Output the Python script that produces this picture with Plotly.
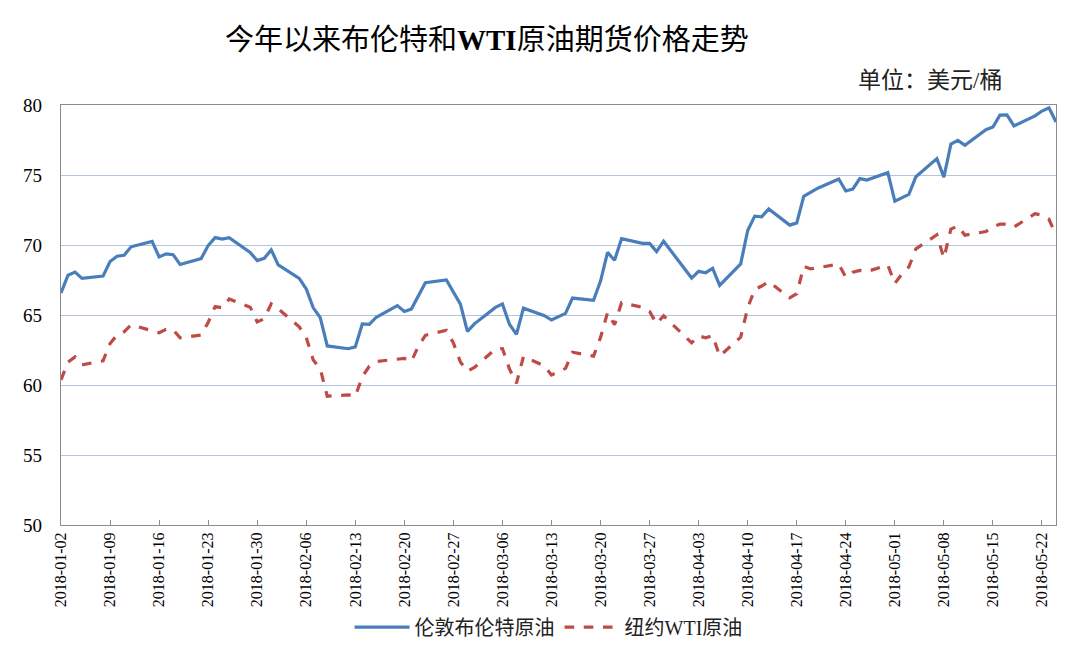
import plotly.graph_objects as go

dates = [
    "2018-01-02", "2018-01-03", "2018-01-04", "2018-01-05",
    "2018-01-08", "2018-01-09", "2018-01-10", "2018-01-11", "2018-01-12",
    "2018-01-15", "2018-01-16", "2018-01-17", "2018-01-18", "2018-01-19",
    "2018-01-22", "2018-01-23", "2018-01-24", "2018-01-25", "2018-01-26",
    "2018-01-29", "2018-01-30", "2018-01-31", "2018-02-01", "2018-02-02",
    "2018-02-05", "2018-02-06", "2018-02-07", "2018-02-08", "2018-02-09",
    "2018-02-12", "2018-02-13", "2018-02-14", "2018-02-15", "2018-02-16",
    "2018-02-19", "2018-02-20", "2018-02-21", "2018-02-22", "2018-02-23",
    "2018-02-26", "2018-02-27", "2018-02-28", "2018-03-01", "2018-03-02",
    "2018-03-05", "2018-03-06", "2018-03-07", "2018-03-08", "2018-03-09",
    "2018-03-12", "2018-03-13", "2018-03-14", "2018-03-15", "2018-03-16",
    "2018-03-19", "2018-03-20", "2018-03-21", "2018-03-22", "2018-03-23",
    "2018-03-26", "2018-03-27", "2018-03-28", "2018-03-29",
    "2018-04-02", "2018-04-03", "2018-04-04", "2018-04-05", "2018-04-06",
    "2018-04-09", "2018-04-10", "2018-04-11", "2018-04-12", "2018-04-13",
    "2018-04-16", "2018-04-17", "2018-04-18", "2018-04-19", "2018-04-20",
    "2018-04-23", "2018-04-24", "2018-04-25", "2018-04-26", "2018-04-27",
    "2018-04-30", "2018-05-01", "2018-05-02", "2018-05-03", "2018-05-04",
    "2018-05-07", "2018-05-08", "2018-05-09", "2018-05-10", "2018-05-11",
    "2018-05-14", "2018-05-15", "2018-05-16", "2018-05-17", "2018-05-18",
    "2018-05-21", "2018-05-22", "2018-05-23", "2018-05-24",
]

brent = [
    66.57, 67.84, 68.07, 67.62,
    67.78, 68.82, 69.20, 69.26, 69.87,
    70.26, 69.15, 69.37, 69.31, 68.61,
    69.03, 69.96, 70.53, 70.42, 70.52,
    69.46, 68.89, 69.05, 69.65, 68.58,
    67.62, 66.86, 65.51, 64.81, 62.79,
    62.59, 62.72, 64.36, 64.33, 64.84,
    65.67, 65.25, 65.42, 66.39, 67.31,
    67.50, 66.63, 65.78, 63.83, 64.37,
    65.54, 65.79, 64.34, 63.61, 65.49,
    64.95, 64.64, 64.89, 65.12, 66.21,
    66.05, 67.42, 69.47, 68.91, 70.45,
    70.12, 70.11, 69.53, 70.27,
    67.64, 68.12, 68.02, 68.33, 67.11,
    68.65, 71.04, 72.06, 72.02, 72.58,
    71.42, 71.58, 73.48, 73.78, 74.06,
    74.71, 73.86, 74.00, 74.74, 74.64,
    75.17, 73.13, 73.36, 73.62, 74.87,
    76.17, 74.85, 77.21, 77.47, 77.12,
    78.23, 78.43, 79.28, 79.30, 78.51,
    79.22, 79.57, 79.80, 78.79,
]

wti = [
    60.37, 61.63, 62.01, 61.44,
    61.73, 62.96, 63.57, 63.80, 64.30,
    None, 63.73, 63.97, 63.95, 63.37,
    63.57, 64.47, 65.61, 65.51, 66.14,
    65.56, 64.50, 64.73, 65.80, 65.45,
    64.15, 63.39, 61.79, 61.15, 59.20,
    59.29, 59.19, 60.60, 61.34, 61.68,
    None, 61.90, 61.68, 62.77, 63.55,
    63.91, 63.01, 61.64, 60.99, 61.25,
    62.57, 62.60, 61.15, 60.12, 62.04,
    61.36, 60.71, 60.96, 61.19, 62.34,
    62.06, 63.40, 65.17, 64.30, 65.88,
    65.55, 65.25, 64.38, 64.94,
    63.01, 63.51, 63.37, 63.54, 62.06,
    63.42, 65.51, 66.82, 67.07, 67.39,
    66.22, 66.52, 68.47, 68.29, 68.38,
    68.64, 67.70, 68.05, 68.19, 68.10,
    68.57, 67.25, 67.93, 68.43, 69.72,
    70.73, 69.06, 71.14, 71.36, 70.70,
    70.96, 71.31, 71.49, 71.49, 71.28,
    72.24, 72.13, 71.84, 70.71,
]

tick_dates = [
    "2018-01-02", "2018-01-09", "2018-01-16", "2018-01-23", "2018-01-30",
    "2018-02-06", "2018-02-13", "2018-02-20", "2018-02-27", "2018-03-06",
    "2018-03-13", "2018-03-20", "2018-03-27", "2018-04-03", "2018-04-10",
    "2018-04-17", "2018-04-24", "2018-05-01", "2018-05-08", "2018-05-15",
    "2018-05-22",
]

title_text = "今年以来布伦特和<b>WTI</b>原油期货价格走势"
unit_text = "单位：美元/桶"
name_brent = "伦敦布伦特原油"
name_wti = "纽约WTI原油"

FONT = "Liberation Serif, Noto Sans CJK SC, serif"

fig = go.Figure()
fig.add_trace(go.Scatter(
    x=dates, y=brent, mode="lines", name=name_brent,
    line=dict(color="#4a7ebb", width=3.2),
))
fig.add_trace(go.Scatter(
    x=dates, y=wti, mode="lines", name=name_wti, connectgaps=True,
    line=dict(color="#be4b48", width=3.2, dash="dash"),
))

fig.update_layout(
    width=1080, height=652,
    margin=dict(l=61, r=24, t=105, b=127, autoexpand=False),
    paper_bgcolor="white", plot_bgcolor="white",
    font=dict(family=FONT, color="#000000"),
    showlegend=True,
    legend=dict(
        orientation="h", x=0.49, xanchor="center", y=-0.243, yanchor="middle",
        font=dict(family=FONT, size=20, color="#222222"),
        itemwidth=55, bgcolor="rgba(0,0,0,0)",
    ),
    xaxis=dict(
        type="date", automargin=False,
        range=["2018-01-02", "2018-05-24"],
        tickvals=tick_dates, ticktext=tick_dates,
        tickangle=-90,
        tickfont=dict(family="Liberation Serif, serif", size=16, color="#000000"),
        ticks="inside", ticklen=5, tickcolor="#8c8c8c",
        showgrid=False, zeroline=False,
        showline=True, linecolor="#8c8c8c", linewidth=1.2, mirror=True,
    ),
    yaxis=dict(
        range=[50, 80], dtick=5, automargin=False,
        tickfont=dict(family="Liberation Serif, serif", size=19, color="#000000"),
        ticks="", ticklabelstandoff=14,
        showgrid=True, gridcolor="#b4c5de", gridwidth=1.3,
        zeroline=False,
        showline=True, linecolor="#8c8c8c", linewidth=1.2, mirror=True,
    ),
    annotations=[
        dict(text=title_text, xref="paper", yref="paper", x=0.428, y=1.155,
             xanchor="center", yanchor="middle", showarrow=False,
             font=dict(family=FONT, size=29, color="#000000")),
        dict(text=unit_text, xref="paper", yref="paper", x=0.873, y=1.0595,
             xanchor="center", yanchor="middle", showarrow=False,
             font=dict(family=FONT, size=23, color="#222222")),
    ],
)

fig.write_html("out.html")
